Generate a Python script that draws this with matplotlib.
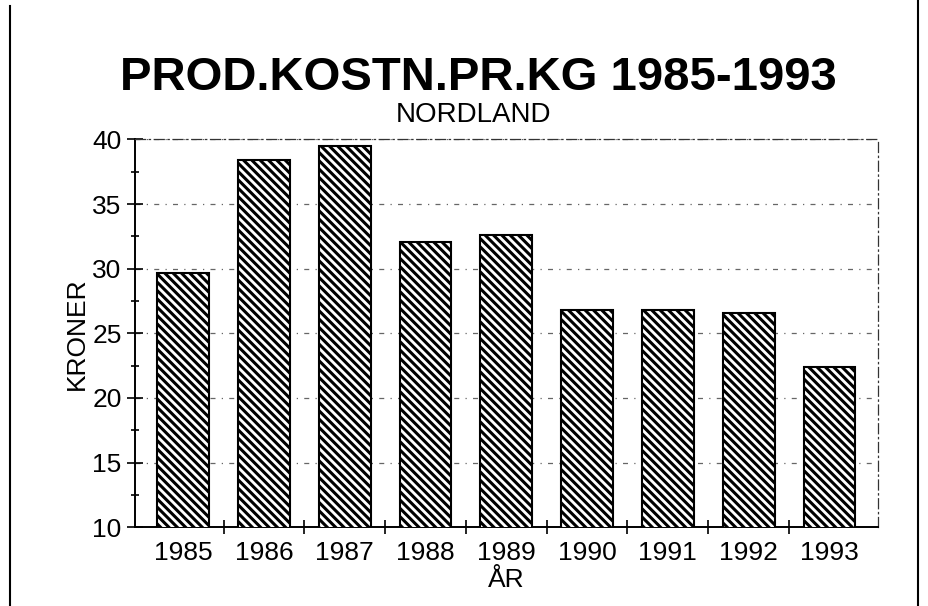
import matplotlib.pyplot as plt
from matplotlib.ticker import MultipleLocator, FixedLocator
import numpy as np

plt.rcParams['font.family'] = ['Liberation Sans', 'DejaVu Sans']
plt.rcParams['hatch.linewidth'] = 2.2

years = ["1985", "1986", "1987", "1988", "1989", "1990", "1991", "1992", "1993"]
kroner = [29.7, 38.4, 39.5, 32.1, 32.6, 26.8, 26.8, 26.6, 22.4]


def main():
    fig = plt.figure(figsize=(9.29, 6.06), dpi=100)
    ax = fig.add_axes([0.145, 0.13, 0.8, 0.64])

    x = np.arange(len(years))
    ax.bar(x, kroner, width=0.64, bottom=0, color='white', edgecolor='black',
           hatch='\\\\\\\\', linewidth=1.5, zorder=3)

    ax.set_ylim(10, 40)
    ax.set_xlim(-0.6, len(years) - 0.4)
    ax.yaxis.set_major_locator(MultipleLocator(5))
    ax.yaxis.set_minor_locator(MultipleLocator(2.5))
    ax.set_xticks(x)
    ax.set_xticklabels(years, fontsize=19)
    ax.xaxis.set_minor_locator(FixedLocator(x[:-1] + 0.5))
    ax.tick_params(axis='x', which='major', length=0, pad=10)
    ax.tick_params(axis='x', which='minor', length=10, direction='inout', width=1.2)
    ax.tick_params(axis='y', which='both', direction='inout', width=1.2, labelsize=19)
    ax.tick_params(axis='y', which='major', length=12)
    ax.tick_params(axis='y', which='minor', length=6)

    ax.grid(axis='y', which='major', linestyle=(0, (4, 5, 1, 5)), color='#666666',
            linewidth=0.9, zorder=0)

    for side in ['top', 'right']:
        ax.spines[side].set_linestyle((0, (8, 3, 1, 3)))
        ax.spines[side].set_linewidth(0.9)
        ax.spines[side].set_color('#333333')
    ax.spines['left'].set_linewidth(1.4)
    ax.spines['bottom'].set_linewidth(1.4)

    ax.set_ylabel('KRONER', fontsize=19, labelpad=2)
    ax.set_xlabel('ÅR', fontsize=19, labelpad=2)

    fig.text(0.515, 0.872, 'PROD.KOSTN.PR.KG 1985-1993', ha='center', va='center',
             fontsize=34, fontweight='bold')
    fig.text(0.51, 0.81, 'NORDLAND', ha='center', va='center', fontsize=20)

    # scan page edges
    fig.add_artist(plt.Line2D([0.011, 0.011], [0, 0.99], color='black', linewidth=1.5))
    fig.add_artist(plt.Line2D([0.988, 0.988], [0, 1], color='black', linewidth=1.5))

    fig.savefig('out.png', dpi=100)


if __name__ == '__main__':
    main()
